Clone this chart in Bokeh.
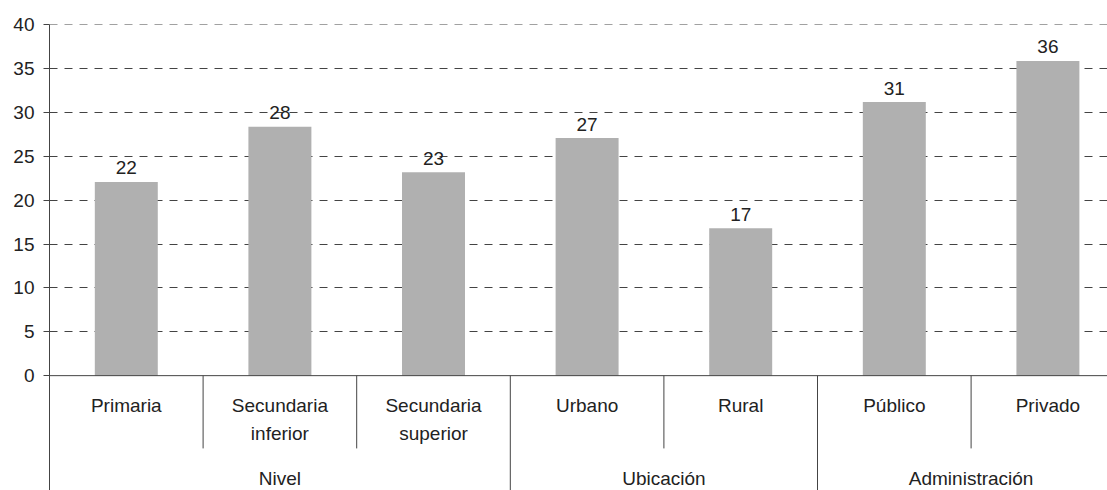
from bokeh.plotting import figure
from bokeh.models import ColumnDataSource, FixedTicker, Range1d
from bokeh.core.properties import value
from bokeh.embed import file_html
from bokeh.resources import INLINE

# ---- data ----
categories = ["Primaria", "Secundaria\ninferior", "Secundaria\nsuperior",
              "Urbano", "Rural", "Público", "Privado"]
groups = ["Nivel", "Ubicación", "Administración"]
group_sizes = [3, 2, 2]
values = [22.1, 28.4, 23.2, 27.1, 16.8, 31.2, 35.9]
labels = ["22", "28", "23", "27", "17", "31", "36"]
y_ticks = [0, 5, 10, 15, 20, 25, 30, 35, 40]

FONT = "Liberation Sans"
TXT = "#222222"
LINE = "#444444"

X_END = 6.388
Y_BOT = -13.1

W, H = 1107, 490
p = figure(width=W, height=H, output_backend="svg", toolbar_location=None,
           x_range=Range1d(-0.5, X_END), y_range=Range1d(Y_BOT, 40.05),
           min_border_left=49, min_border_right=0, min_border_top=24,
           min_border_bottom=0)
p.outline_line_color = None
p.background_fill_color = "white"
p.border_fill_color = "white"
p.xaxis.visible = False
p.xgrid.visible = False

# y axis
p.yaxis.ticker = FixedTicker(ticks=y_ticks)
p.yaxis.minor_tick_line_color = None
p.yaxis.major_tick_in = 0
p.yaxis.major_tick_out = 6
p.yaxis.major_label_standoff = 9
p.yaxis.axis_line_color = LINE
p.yaxis.major_tick_line_color = LINE
p.yaxis.major_label_text_font = FONT
p.yaxis.major_label_text_font_size = "19px"
p.yaxis.major_label_text_color = TXT

p.ygrid.ticker = FixedTicker(ticks=y_ticks[1:])
p.ygrid.grid_line_color = LINE
p.ygrid.grid_line_dash = "8 7"
p.ygrid.grid_line_width = 1

xs = list(range(len(categories)))
src = ColumnDataSource(dict(x=xs, top=values, lab=labels))
p.vbar(x="x", top="top", bottom=0, width=0.41, source=src,
       fill_color="#b0b0b0", line_color=None)
p.text(x="x", y="top", text="lab", source=src, text_align="center",
       text_baseline="alphabetic", y_offset=-14, text_font=value(FONT),
       text_font_size="19px", text_color=TXT)

# x-axis line at 0
p.segment(x0=[-0.5], y0=[0], x1=[X_END], y1=[0], line_color=LINE, line_width=1)

# category labels (split lines)
lx, ly, lt = [], [], []
for i, c in enumerate(categories):
    for j, part in enumerate(c.split("\n")):
        lx.append(i)
        ly.append(-3.42 - 3.19 * j)
        lt.append(part)
p.text(x=lx, y=ly, text=lt, text_align="center", text_baseline="middle",
       text_font=value(FONT), text_font_size="19px", text_color=TXT)

# separators
bounds = []
acc = 0
for s in group_sizes:
    acc += s
    bounds.append(acc)
group_edges = [b - 0.5 for b in bounds[:-1]]
sub_edges = [i + 0.5 for i in range(len(categories) - 1) if (i + 0.5) not in group_edges]
p.segment(x0=sub_edges, y0=[0] * len(sub_edges), x1=sub_edges,
          y1=[-8.3] * len(sub_edges), line_color=LINE, line_width=1)
p.segment(x0=group_edges, y0=[0] * len(group_edges), x1=group_edges,
          y1=[Y_BOT] * len(group_edges), line_color=LINE, line_width=1)

# group labels
gx = []
start = 0
for s in group_sizes:
    gx.append(start + (s - 1) / 2)
    start += s
p.text(x=gx, y=[-11.7] * len(gx), text=groups, text_align="center",
       text_baseline="middle", text_font=value(FONT), text_font_size="19px",
       text_color=TXT)

open("out.html", "w").write(file_html(p, INLINE))
